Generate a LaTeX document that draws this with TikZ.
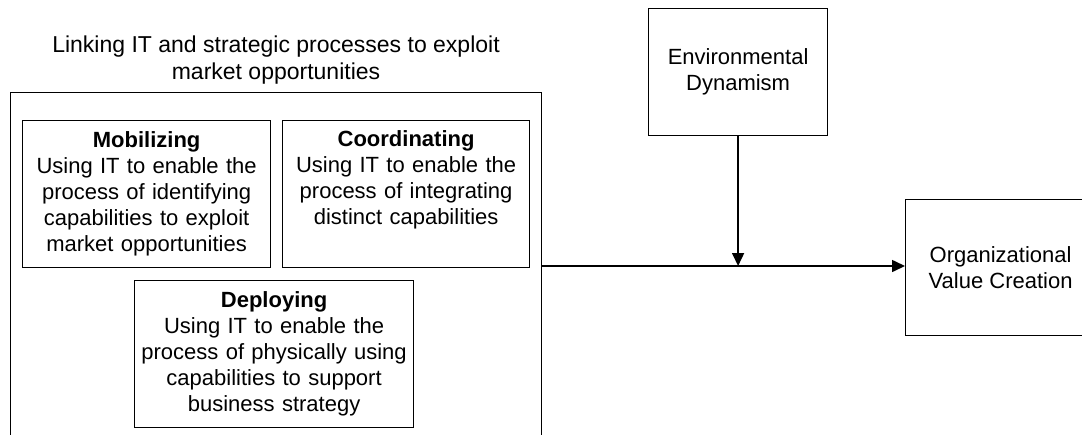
\documentclass[tikz,border=0pt]{standalone}
\usepackage{fontspec}
\setmainfont{Liberation Sans}
\usetikzlibrary{arrows.meta,positioning}

\begin{document}
\begin{tikzpicture}[x=1pt,y=-1pt,
    every node/.style={font=\fontsize{22}{26}\selectfont, align=center},
    box/.style={draw, line width=1.2pt, inner sep=4pt},
    procbox/.style={box, text width=#1, minimum height=147pt},
    flow/.style={line width=1.6pt, -{Triangle[length=13pt,width=12pt]}}]
	\useasboundingbox (0,0) rectangle (1082,434);
	\clip (0,0) rectangle (1082,434);
	\node[font=\fontsize{23}{27}\selectfont] (title) at (276,60) {Linking IT and strategic processes to exploit\\market opportunities};
	\node[box, anchor=north west, minimum width=531pt, minimum height=400pt] (outer) at (10,92) {};
	\begin{scope}[every node/.append style={anchor=north west}]
		\node[procbox=240pt] (mob) at (22,120) {\textbf{Mobilizing}\\Using IT to enable the\\process of identifying\\capabilities to exploit\\market opportunities};
		\node[procbox=239pt] (coord) at (282,120) {\textbf{Coordinating}\\Using IT to enable the\\process of integrating\\distinct capabilities\\\strut};
		\node[procbox=271pt, minimum height=147pt] (deploy) at (134,280) {\textbf{Deploying}\\Using IT to enable the\\process of physically using\\capabilities to support\\business strategy};
		\node[box, minimum width=179pt, minimum height=127pt] (env) at (648,8) {Environmental\\Dynamism};
		\node[box, minimum width=190pt, minimum height=136pt] (value) at (905,199) {Organizational\\Value Creation};
	\end{scope}
	\coordinate (meet) at (737,266);
	\draw[flow] (outer.east |- meet) -- (value.west |- meet);
	\draw[flow] (env.south) -- (env.south |- meet);
\end{tikzpicture}
\end{document}
